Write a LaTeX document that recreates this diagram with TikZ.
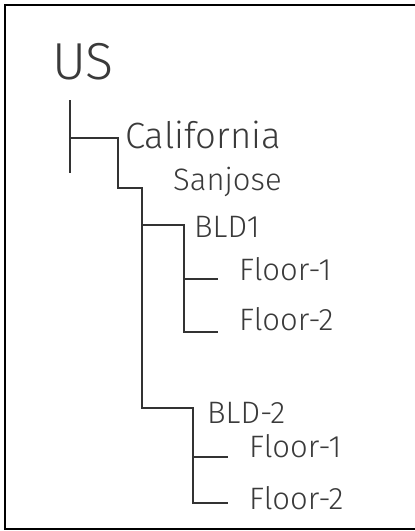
\documentclass[tikz,border=0pt]{standalone}
\usepackage{fontspec}
\setmainfont{Fira Sans Light}
\definecolor{txt}{HTML}{3A3A3A}
\definecolor{ln}{HTML}{333333}
\begin{document}
\begin{tikzpicture}[x=1pt,y=-1pt,
  lbl/.style={anchor=base west,inner sep=0pt,text=txt},
  big/.style={lbl,font=\fontsize{52}{56}\selectfont},
  mid/.style={lbl,font=\fontsize{36.5}{40}\selectfont},
  small/.style={lbl,font=\fontsize{31}{35}\selectfont},
  tree/.style={draw=ln,line width=1.3pt,line join=miter}]
\useasboundingbox (0,0) rectangle (415,531);
\draw[line width=2pt,black] (416,5) -- (5,5) -- (5,529) -- (416,529);
% labels
\node[big] (us) at (52,79) {US};
\node[mid] (ca) at (125,148) {California};
\node[small] (sj) at (173,190) {Sanjose};
\node[small] (b1) at (194,237) {BLD1};
\node[small] (b1f1) at (239,280) {Floor-1};
\node[small] (b1f2) at (239,330) {Floor-2};
\node[small] (b2) at (207,423) {BLD-2};
\node[small] (b2f1) at (249,457) {Floor-1};
\node[small] (b2f2) at (249,509) {Floor-2};
% tree coordinates
\coordinate (usT) at (70,100);
\coordinate (usB) at (70,173);
\coordinate (usM) at (70,138);
\coordinate (caE) at (118,138);
\coordinate (caD) at (118,188);
\coordinate (sjE) at (142,188);
\coordinate (sjB) at (142,408);
\coordinate (b1J) at (142,225);
\coordinate (b1E) at (184,225);
\coordinate (b1B) at (184,332);
\coordinate (b1F1s) at (184,279);
\coordinate (b1F1e) at (218,279);
\coordinate (b1F2e) at (218,332);
\coordinate (b2E) at (193,408);
\coordinate (b2B) at (193,503);
\coordinate (b2F1s) at (193,457);
\coordinate (b2F1e) at (228,457);
\coordinate (b2F2e) at (228,503);
% connectors
\draw[tree] (usT) -- (usB);
\draw[tree] (usM) -- (caE) -- (caD) -- (sjE) -- (sjB) -- (b2E) -- (b2B) -- (b2F2e);
\draw[tree] (b1J) -- (b1E) -- (b1B) -- (b1F2e);
\draw[tree] (b1F1s) -- (b1F1e);
\draw[tree] (b2F1s) -- (b2F1e);
\end{tikzpicture}
\end{document}
